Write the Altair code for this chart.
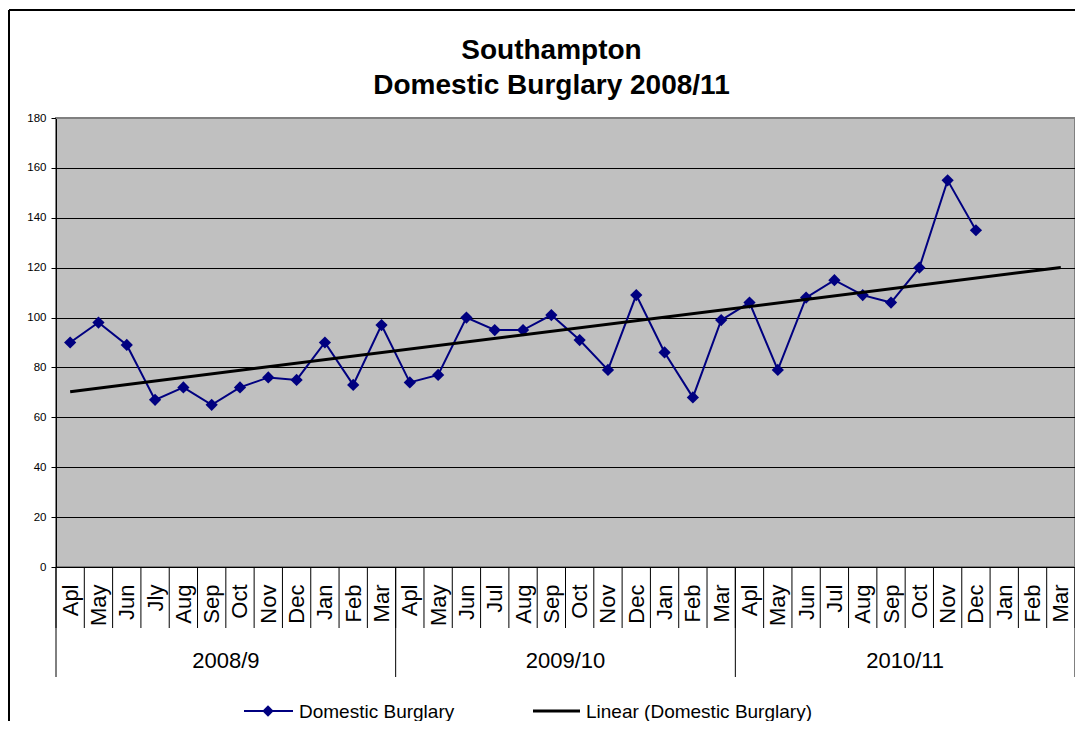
import json
import altair as alt
import pandas as pd

# ---------------- data ----------------
months = ["Apl", "May", "Jun", "Jly", "Aug", "Sep", "Oct", "Nov", "Dec", "Jan", "Feb", "Mar",
          "Apl", "May", "Jun", "Jul", "Aug", "Sep", "Oct", "Nov", "Dec", "Jan", "Feb", "Mar",
          "Apl", "May", "Jun", "Jul", "Aug", "Sep", "Oct", "Nov", "Dec", "Jan", "Feb", "Mar"]
fiscal_years = ["2008/9", "2009/10", "2010/11"]
burglary = [90, 98, 89, 67, 72, 65, 72, 76, 75, 90, 73, 97,
            74, 77, 100, 95, 95, 101, 91, 79, 109, 86, 68, 99,
            106, 79, 108, 115, 109, 106, 120, 155, 135]
y_ticks = [0, 20, 40, 60, 80, 100, 120, 140, 160, 180]
series_name = "Domestic Burglary"
trend_name = "Linear (Domestic Burglary)"
chart_title = ["Southampton", "Domestic Burglary 2008/11"]

# ---------------- layout / style ----------------
FONT = "Liberation Sans"
NAVY = "#000080"
W, H = 1019, 449
n = len(months)
per_year = n // len(fiscal_years)

series = pd.DataFrame({"idx": list(range(len(burglary))),
                       "month": months[:len(burglary)],
                       "value": burglary})
month_bounds = pd.DataFrame({"b": [i - 0.5 for i in range(n + 1)]})
year_bounds = pd.DataFrame({"b": [k * per_year - 0.5 for k in range(len(fiscal_years) + 1)]})
year_labels = pd.DataFrame({"fy": fiscal_years,
                            "mid": [k * per_year + (per_year - 1) / 2 for k in range(len(fiscal_years))]})
one = pd.DataFrame({"_": [0]})

x_scale = alt.Scale(domain=[-0.5, n - 0.5], nice=False, zero=False)
y_scale = alt.Scale(domain=[0, 180], nice=False, zero=True)

x_axis = alt.Axis(values=list(range(n)),
                  labelExpr=json.dumps(months) + "[datum.value]",
                  labelAngle=270, labelFontSize=22, labelFont=FONT, labelColor="black",
                  labelPadding=17, labelOverlap=False, labelFlush=False,
                  ticks=False, domain=False, grid=False, title=None)
y_axis = alt.Axis(values=y_ticks, grid=True, gridColor="#000000",
                  gridWidth=1, gridOpacity=1,
                  domain=True, domainColor="black", domainWidth=1,
                  ticks=True, tickColor="black", tickSize=5, tickWidth=1,
                  labelFontSize=11.5, labelFont=FONT, labelColor="black", labelPadding=5,
                  title=None)

X = alt.X("idx:Q", scale=x_scale, axis=x_axis)
Y = alt.Y("value:Q", scale=y_scale, axis=y_axis)

base = alt.Chart(series)

frame_v = alt.Chart(one).mark_rule(color="black", strokeWidth=2).encode(
    x=alt.value(-47), y=alt.value(-108), y2=alt.value(H + 200))
frame_h = alt.Chart(one).mark_rule(color="black", strokeWidth=2).encode(
    x=alt.value(-47), x2=alt.value(W + 20), y=alt.value(-108))

month_sep = alt.Chart(month_bounds).mark_rule(color="black", strokeWidth=1).encode(
    x=alt.X("b:Q", scale=x_scale, axis=x_axis), y=alt.value(H), y2=alt.value(H + 61))
year_sep = alt.Chart(year_bounds).mark_rule(color="black", strokeWidth=1).encode(
    x=alt.X("b:Q", scale=x_scale, axis=x_axis), y=alt.value(H), y2=alt.value(H + 110))
year_txt = alt.Chart(year_labels).mark_text(
    font=FONT, fontSize=22, color="black", align="center", baseline="middle").encode(
    x=alt.X("mid:Q", scale=x_scale, axis=x_axis), y=alt.value(H + 94), text="fy:N")

# gray top border of the plot area, over the 180 gridline
top_border = alt.Chart(one).mark_rule(color="#808080", strokeWidth=2).encode(
    x=alt.value(0), x2=alt.value(W), y=alt.value(0))

line = base.mark_line(color=NAVY, strokeWidth=2).encode(x=X, y=Y)
points = base.mark_point(shape="diamond", filled=True, size=150, color=NAVY, opacity=1).encode(
    x=X, y=Y)
trend = base.transform_regression("idx", "value", extent=[0, n - 1]).mark_line(
    color="black", strokeWidth=3).encode(x=X, y=Y)

# legend
leg_line1 = alt.Chart(one).mark_rule(color=NAVY, strokeWidth=2).encode(
    x=alt.value(188), x2=alt.value(237), y=alt.value(593))
leg_pt = alt.Chart(one).mark_point(shape="diamond", filled=True, size=130, color=NAVY, opacity=1).encode(
    x=alt.value(212), y=alt.value(593))
leg_txt1 = alt.Chart(one).mark_text(font=FONT, fontSize=19, color="black", align="left",
                                    baseline="middle").encode(
    x=alt.value(243), y=alt.value(594), text=alt.value(series_name))
leg_line2 = alt.Chart(one).mark_rule(color="black", strokeWidth=3).encode(
    x=alt.value(477), x2=alt.value(524), y=alt.value(593))
leg_txt2 = alt.Chart(one).mark_text(font=FONT, fontSize=19, color="black", align="left",
                                    baseline="middle").encode(
    x=alt.value(530), y=alt.value(594), text=alt.value(trend_name))

title = alt.Chart(one).mark_text(font=FONT, fontSize=28, fontWeight="bold", color="black",
                                 align="center", baseline="middle", lineHeight=35,
                                 text=chart_title).encode(
    x=alt.value(W / 2 - 14), y=alt.value(-67))

chart = alt.layer(
    line, points, trend,
    frame_v, frame_h, month_sep, year_sep, year_txt, top_border,
    leg_line1, leg_pt, leg_txt1, leg_line2, leg_txt2, title
).properties(
    width=W, height=H,
    padding={"left": 48, "top": 110, "right": 0, "bottom": 154},
    autosize=alt.AutoSizeParams(type="none"),
    background="white",
).configure_view(
    fill="#C0C0C0", stroke="#808080", strokeWidth=2
)

chart.save("out.html", embed_options={"renderer": "svg", "actions": False})
